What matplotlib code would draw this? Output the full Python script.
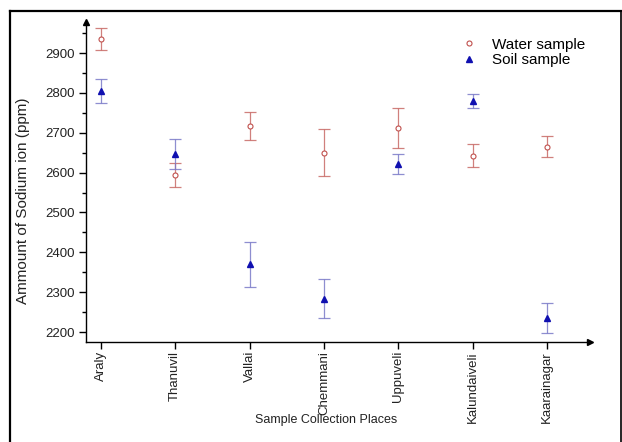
import matplotlib
matplotlib.use("Agg")
import matplotlib.pyplot as plt
from matplotlib.lines import Line2D
from matplotlib.ticker import MultipleLocator
import numpy as np

plt.rcParams['font.family'] = ['Liberation Sans', 'DejaVu Sans']

places = ["Araly", "Thanuvil", "Vallai", "Chemmani", "Uppuveli", "Kalundaiveli", "Kaarainagar"]
water_mean = [2935, 2595, 2717, 2650, 2711, 2642, 2665]
water_err = [27, 30, 35, 59, 50, 29, 27]
soil_mean = [2805, 2647, 2370, 2284, 2622, 2780, 2236]
soil_err = [30, 37, 56, 48, 26, 18, 38]

x = np.arange(1, len(places) + 1)

fig = plt.figure(figsize=(6.22, 4.42), dpi=100)
ax = fig.add_axes([86 / 622, 100 / 442, 504 / 622, 320 / 442])

ax.errorbar(x, water_mean, yerr=water_err, fmt='none', ecolor='#c86a66',
            elinewidth=0.9, capsize=4, capthick=0.9, alpha=0.85, zorder=2)
ax.errorbar(x, soil_mean, yerr=soil_err, fmt='none', ecolor='#7a7ac8',
            elinewidth=0.9, capsize=4, capthick=0.9, alpha=0.85, zorder=2)
ax.plot(x, water_mean, linestyle='none', marker='o', markersize=3.6,
        markerfacecolor='white', markeredgecolor='#c0504d', markeredgewidth=0.8,
        label='Water sample', zorder=3)
ax.plot(x, soil_mean, linestyle='none', marker='^', markersize=4.8,
        markerfacecolor='#1010b0', markeredgecolor='#1010b0',
        label='Soil sample', zorder=3)

ax.set_xlim(0.8, 7.58)
ax.set_ylim(2175, 2978)

ax.set_xticks(x)
ax.set_xticklabels(places, rotation=90, fontsize=9.5, color='#222222')
ax.yaxis.set_major_locator(MultipleLocator(100))
ax.yaxis.set_minor_locator(MultipleLocator(50))
ax.tick_params(axis='y', which='major', direction='out', length=5, width=1, labelsize=9.5,
               labelcolor='#222222', pad=3)
ax.tick_params(axis='y', which='minor', direction='out', length=3, width=1)
ax.tick_params(axis='x', which='major', direction='out', length=5, width=1, pad=1.5)

for side in ('top', 'right'):
    ax.spines[side].set_visible(False)
for side in ('left', 'bottom'):
    ax.spines[side].set_linewidth(1.0)

# arrow heads at the ends of both axes
ax.plot(1, 0, marker='>', color='black', markersize=5, transform=ax.transAxes, clip_on=False)
ax.plot(0, 1, marker='^', color='black', markersize=5, transform=ax.transAxes, clip_on=False)

ax.set_ylabel('Ammount of Sodium ion (ppm)', fontsize=11, color='#222222')
ax.yaxis.set_label_coords(-0.112, 0.44)
fig.text(326 / 622, 1 - 420 / 442, 'Sample Collection Places', fontsize=9,
         color='#222222', ha='center', va='center')

leg = ax.legend(loc='upper left', bbox_to_anchor=(0.73, 0.97), frameon=False,
                fontsize=11, handlelength=1.2, handletextpad=0.9, labelspacing=0.1,
                borderaxespad=0)

# outer frame around the figure
fig.add_artist(Line2D([9.5 / 622, 621 / 622], [1 - 11 / 442, 1 - 11 / 442],
                      transform=fig.transFigure, color='black', linewidth=1.6))
fig.add_artist(Line2D([9.5 / 622, 9.5 / 622], [0, 1 - 11 / 442],
                      transform=fig.transFigure, color='black', linewidth=1.6))
fig.add_artist(Line2D([621 / 622, 621 / 622], [0, 1 - 11 / 442],
                      transform=fig.transFigure, color='black', linewidth=1.2))

fig.savefig('out.png', dpi=100)
